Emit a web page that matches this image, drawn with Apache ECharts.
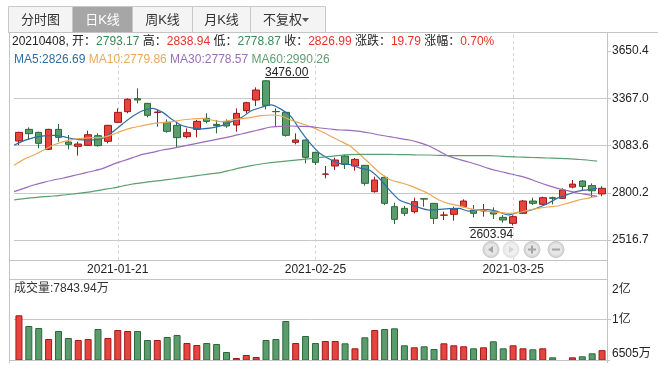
<!DOCTYPE html>
<html><head><meta charset="utf-8">
<script src="https://cdn.jsdelivr.net/npm/echarts@6/dist/echarts.min.js"></script>
<style>html,body{margin:0;padding:0;background:#fff}#c{width:666px;height:371px}</style>
</head><body><div id="c"></div>
<script>
const dates = [
'2021-01-07','2021-01-08','2021-01-11','2021-01-12','2021-01-13','2021-01-14','2021-01-15','2021-01-18','2021-01-19','2021-01-20',
'2021-01-21','2021-01-22','2021-01-25','2021-01-26','2021-01-27','2021-01-28','2021-01-29','2021-02-01','2021-02-02','2021-02-03',
'2021-02-04','2021-02-05','2021-02-08','2021-02-09','2021-02-10','2021-02-18','2021-02-19','2021-02-22','2021-02-23','2021-02-24',
'2021-02-25','2021-02-26','2021-03-01','2021-03-02','2021-03-03','2021-03-04','2021-03-05','2021-03-08','2021-03-09','2021-03-10',
'2021-03-11','2021-03-12','2021-03-15','2021-03-16','2021-03-17','2021-03-18','2021-03-19','2021-03-22','2021-03-23','2021-03-24',
'2021-03-25','2021-03-26','2021-03-29','2021-03-30','2021-03-31','2021-04-01','2021-04-02','2021-04-06','2021-04-07','2021-04-08'];
// [open, close, low, high]
const ohlc = [
[3110.7,3162.7,3086.7,3166.0],[3180.7,3154.7,3116.7,3192.7],[3162.7,3096.7,3066.7,3166.0],[3060.7,3180.7,3056.7,3184.0],
[3180.7,3132.7,3106.7,3212.7],[3104.7,3090.7,3060.7,3146.7],[3078.7,3092.7,3022.7,3106.7],[3084.7,3148.7,3080.0,3172.7],
[3142.7,3082.7,3076.7,3156.7],[3108.7,3204.7,3096.7,3208.0],[3222.7,3282.7,3218.0,3306.7],[3286.7,3360.7,3276.7,3366.7],
[3364.7,3356.7,3336.7,3426.7],[3336.7,3264.7,3252.7,3338.0],[3282.0,3284.7,3196.7,3296.7],[3222.7,3168.7,3160.7,3240.7],
[3204.7,3130.7,3072.7,3226.7],[3136.7,3160.7,3126.7,3186.7],[3180.7,3228.7,3132.7,3236.7],[3246.7,3228.7,3216.7,3276.7],
[3210.7,3202.7,3156.7,3236.7],[3226.7,3200.7,3190.0,3240.0],[3206.7,3276.7,3166.7,3306.7],[3292.7,3340.7,3276.7,3346.0],
[3356.7,3416.7,3320.7,3432.7],[3472.0,3324.7,3300.7,3476.0],[3288.0,3286.7,3196.7,3306.7],[3282.7,3144.7,3136.7,3286.0],
[3102.7,3116.7,3090.7,3156.7],[3116.7,3012.7,2976.7,3118.0],[3042.7,2982.7,2966.7,3045.0],[2911.5,2912.7,2886.7,2960.7],
[2960.7,2996.7,2936.7,3010.7],[3020.7,2970.7,2942.7,3030.7],[2960.7,3000.7,2932.7,3008.7],[2964.7,2856.7,2842.7,2966.0],
[2806.7,2876.7,2800.7,2896.7],[2892.7,2736.7,2726.7,2902.7],[2716.7,2640.7,2612.7,2740.7],[2706.7,2676.7,2660.7,2720.7],
[2686.7,2746.7,2676.7,2770.7],[2764.7,2762.0,2716.7,2766.0],[2736.7,2646.7,2612.7,2738.0],[2665.5,2666.7,2636.7,2686.7],
[2670.7,2702.7,2632.7,2716.7],[2716.7,2750.7,2712.7,2760.7],[2696.7,2676.7,2652.7,2726.7],[2691.5,2692.7,2656.7,2732.7],
[2686.7,2672.7,2642.7,2712.7],[2652.7,2636.7,2620.7,2666.7],[2616.7,2656.7,2603.94,2664.7],[2676.7,2750.7,2674.0,2756.7],
[2750.7,2736.7,2726.7,2770.7],[2730.7,2770.7,2726.7,2776.7],[2770.7,2766.7,2730.7,2776.7],[2766.7,2816.7,2762.7,2826.7],
[2834.0,2852.0,2826.7,2876.7],[2870.7,2838.0,2816.7,2876.7],[2843.0,2812.0,2772.0,2856.7],[2793.17,2826.99,2778.87,2838.94]];
const ma5 = [3085,3113,3131,3141,3145,3137,3123,3117,3117,3127,3166,3214,3259,3292,3307,3284,3240,3204,3190,3184,
3189,3203,3227,3251,3292,3312,3327,3302,3258,3172,3095,3034,3000,2975,2970,2948,2935,2884,2816,2757,
2734,2711,2696,2700,2705,2706,2690,2698,2699,2686,2667,2682,2691,2710,2736,2768,2789,2809,2818,2826.69];
const ma10 = [2964.7,3000.7,3026.7,3056.7,3086.7,3106.7,3120.7,3126.7,3130.7,3132.7,3150.7,3172.7,3190.7,3202.7,3214.7,3220.7,3226.7,3236.7,3242.7,3246.7,
3236.7,3226.7,3236.7,3244.7,3252.7,3262.7,3266.7,3260.7,3236.7,3216.7,3196.7,3170.7,3140.7,3110.7,3080.7,3030.0,2975.0,2920.0,2880.0,2862.7,
2844.7,2820.7,2792.7,2756.7,2734.7,2722.7,2706.7,2696.7,2688.7,2682.7,2676.7,2680.7,2694.7,2706.7,2714.7,2720.7,2736.7,2754.7,2766.7,2779.86];
const ma30 = [2806.7,2826.7,2846.7,2862.7,2876.7,2888.7,2902.7,2916.7,2930.7,2946.7,2970.7,2990.7,3010.7,3030.7,3042.7,3056.7,3066.7,3078.7,3090.7,3102.7,
3114.7,3126.7,3138.7,3152.7,3166.7,3180.7,3194.7,3198.7,3200.7,3198.7,3196.7,3188.7,3182.7,3176.7,3174.7,3168.7,3158.7,3146.7,3136.7,3126.7,
3116.7,3100.7,3080.7,3050.0,3020.0,3000.7,2984.7,2966.7,2946.7,2930.7,2916.7,2902.7,2886.7,2864.7,2844.7,2826.7,2812.7,2798.7,2788.7,2778.57];
const ma60 = [2756.7,2764.7,2770.7,2776.7,2780.7,2786.7,2792.7,2800.7,2808.7,2818.7,2828.7,2840.7,2852.7,2860.7,2868.7,2874.7,2882.7,2890.7,2898.7,2906.7,
2914.7,2922.7,2936.7,2950.7,2962.7,2972.7,2980.7,2986.7,2992.7,2998.7,3004.7,3012.7,3018.7,3024.7,3028.7,3030.7,3030.7,3030.7,3030.7,3028.7,
3028.7,3026.7,3026.7,3024.7,3022.7,3022.7,3022.7,3022.7,3022.7,3020.7,3016.7,3014.7,3012.7,3010.7,3008.7,3006.7,3004.7,3000.7,2996.7,2990.26];
// volume in 万
const volume = [12571,11119,10847,9355,10440,9490,9219,9355,10712,9490,10576,10440,10440,9219,9219,9626,9898,8812,8541,8812,
8676,7591,6776,7184,6912,9219,9355,11797,8812,9762,8812,9083,9083,8771,8093,9585,10576,10712,10807,8500,
8228,8364,7998,8771,8500,8364,8093,8228,9043,8093,8500,8093,7957,8093,6871,6505,6871,7007,7414,7843.94];
const priceTickLabels = ['2516.7','2800.2','3083.6','3367.0','3650.4'];
const volTickLabels = ['6505万','1亿','2亿'];
const xTickDates = ['2021-01-21','2021-02-25','2021-03-25'];
const tabLabels = ['分时图','日K线','周K线','月K线','不复权'];
const maNames = ['MA5','MA10','MA30','MA60'];
const maLast = ['2826.69','2779.86','2778.57','2990.26'];
const headerDate = '20210408';
const headerVals = {open:'2793.17',high:'2838.94',low:'2778.87',close:'2826.99',chg:'19.79',pct:'0.70%'};
const volLastText = '7843.94万';

const FONT = '"Liberation Sans","Noto Sans CJK SC",sans-serif';
const UP='#e5443f', UPB='#a01818', DN='#5b9b6d', DNB='#2a6a39';
const MAC = ['#2e6da4','#eaa955','#9b6cb8','#5c9f70'];
const GRIDC = '#c8c8c8', FRAME = '#c4c4c4';

const priceTickVals = priceTickLabels.map(parseFloat);
const volMin = 6505, volMax = 17500;
const volTickVals = [volMin, (volMin+volMax)/2, volMax];
const lineCats = dates.concat(['']);

let hiIdx=0, loIdx=0;
ohlc.forEach((d,i)=>{ if(d[3]>ohlc[hiIdx][3]) hiIdx=i; if(d[2]<ohlc[loIdx][2]) loIdx=i; });

const chart = echarts.init(document.getElementById('c'));
function nearestIdx(arr, v){ let b=0; arr.forEach((t,i)=>{ if(Math.abs(t-v)<Math.abs(arr[b]-v)) b=i; }); return b; }

const maSeries = [ma5,ma10,ma30,ma60].map((d,k)=>({
  type:'line', name:maNames[k], xAxisIndex:1, yAxisIndex:0, data:d, showSymbol:false, symbol:'none',
  smooth:0.25, lineStyle:{color:MAC[k], width:1.2}, z:3, silent:true
}));

// graphics: tabs, frame, header, buttons
const g = [];
const tabX = [8.5,72.5,132.5,192.5,250.5,325.5];
tabLabels.forEach((t,i)=>{
  const act = i===1;
  g.push({type:'rect', shape:{x:tabX[i], y:6.5, width:tabX[i+1]-tabX[i], height:26},
    style:{fill: act?'#a6a6a6':'#f4f4f4', stroke:'#c8c8c8', lineWidth:1}, silent:true});
  if(i===4){
    g.push({type:'text', style:{text:t, x:263, y:20, verticalAlign:'middle', fontSize:13, fontFamily:FONT, fill:'#333'}});
    g.push({type:'polygon', shape:{points:[[302,18],[309,18],[305.5,22]]}, style:{fill:'#555'}});
  } else {
    g.push({type:'text', style:{text:t, x:(tabX[i]+tabX[i+1])/2, y:20, align:'center', verticalAlign:'middle',
      fontSize:13, fontFamily:FONT, fill: act?'#fff':'#333'}});
  }
});
const L = (x1,y1,x2,y2,c)=>g.push({type:'line', shape:{x1,y1,x2,y2}, style:{stroke:c||FRAME, lineWidth:1}, silent:true, z:10});
L(8,32.5,658,32.5);
L(9.5,32,9.5,363); L(607.5,32,607.5,363);
L(9,260.5,607,260.5); L(9,279.5,607,279.5); L(9,360.5,610,360.5);

const red='#e8312b', green='#3a8a56', blk='#222';
g.push({type:'text', z:20, style:{x:12, y:42, verticalAlign:'middle', fontSize:12, fontFamily:FONT,
  text:`{k|${headerDate}, 开：}{g|${headerVals.open}}{k| 高：}{r|${headerVals.high}}{k| 低：}{g|${headerVals.low}}{k| 收：}{r|${headerVals.close}}{k| 涨跌：}{r|${headerVals.chg}}{k| 涨幅：}{r|${headerVals.pct}}`,
  rich:{k:{fill:blk,fontSize:12,fontFamily:FONT}, g:{fill:green,fontSize:12,fontFamily:FONT}, r:{fill:red,fontSize:12,fontFamily:FONT}}}});
g.push({type:'text', z:20, style:{x:14, y:60, verticalAlign:'middle', fontSize:12, fontFamily:FONT,
  text: maNames.map((n,k)=>`{m${k}|${n}:${maLast[k]}}`).join('{s| }'),
  rich:{m0:{fill:MAC[0],fontSize:12,fontFamily:FONT},m1:{fill:MAC[1],fontSize:12,fontFamily:FONT},
        m2:{fill:MAC[2],fontSize:12,fontFamily:FONT},m3:{fill:MAC[3],fontSize:12,fontFamily:FONT},s:{fontSize:12,fontFamily:FONT}}}});
g.push({type:'text', z:20, style:{x:14, y:289, verticalAlign:'middle', fontSize:12, fontFamily:FONT, fill:'#333',
  text:'成交量:'+volLastText}});

// zoom buttons
const btn = [[491,'l',false],[511,'r',true],[532,'p',false],[556,'m',false]];
btn.forEach(([cx,kind,dis])=>{
  const cy=249.5;
  g.push({type:'circle', shape:{cx,cy,r:8}, style:{fill:dis?'#e8e8e8':'#d9d9d9', stroke:dis?'#e0e0e0':'#c6c6c6', lineWidth:1}, z:20});
  g.push({type:'circle', shape:{cx,cy,r:6}, style:{fill:dis?'#efefef':'#e6e6e6'}, z:20});
  const ic = dis?'#d4d4d4':'#a4a4a4';
  if(kind==='l') g.push({type:'polygon', shape:{points:[[cx-3,cy],[cx+2,cy-3.5],[cx+2,cy+3.5]]}, style:{fill:ic}, z:21});
  if(kind==='r') g.push({type:'polygon', shape:{points:[[cx+3,cy],[cx-2,cy-3.5],[cx-2,cy+3.5]]}, style:{fill:ic}, z:21});
  if(kind==='p'){ g.push({type:'rect', shape:{x:cx-4,y:cy-1,width:8,height:2}, style:{fill:ic}, z:21});
                  g.push({type:'rect', shape:{x:cx-1,y:cy-4,width:2,height:8}, style:{fill:ic}, z:21}); }
  if(kind==='m') g.push({type:'rect', shape:{x:cx-4,y:cy-1,width:8,height:2}, style:{fill:ic}, z:21});
});

const option = {
  animation:false,
  textStyle:{fontFamily:FONT},
  grid:[{left:14,right:59,top:32,height:228},{left:14,right:59,top:279,height:81}],
  xAxis:[
    {type:'category', gridIndex:0, data:dates, boundaryGap:true, axisLine:{show:false}, axisTick:{show:false},
     axisLabel:{interval:(i,v)=>xTickDates.includes(v), color:'#222', fontSize:12, margin:4, fontFamily:FONT},
     splitLine:{show:false}},
    {type:'category', gridIndex:0, data:lineCats, boundaryGap:false, show:false},
    {type:'category', gridIndex:1, data:dates, boundaryGap:true, show:false}
  ],
  yAxis:[
    {type:'value', gridIndex:0, position:'right', min:2396.7, max:3764.85, axisLine:{show:false}, splitLine:{show:false},
     axisTick:{show:true, customValues:priceTickVals, length:4, lineStyle:{color:FRAME}},
     axisLabel:{customValues:priceTickVals, formatter:v=>priceTickLabels[nearestIdx(priceTickVals,v)],
       color:'#222', fontSize:12, margin:5, fontFamily:FONT}},
    {type:'value', gridIndex:1, position:'right', min:volMin, max:volMax, axisLine:{show:false}, splitLine:{show:false},
     axisTick:{show:true, customValues:[volTickVals[1]], length:4, lineStyle:{color:FRAME}},
     axisLabel:{customValues:volTickVals, margin:5, fontSize:12, color:'#222', fontFamily:FONT,
       formatter:v=>{const i=nearestIdx(volTickVals,v); return '{t'+i+'|'+volTickLabels[i]+'}';},
       rich:{t0:{fontSize:12,fontFamily:FONT,color:'#222',padding:[0,0,12,0]},
             t1:{fontSize:12,fontFamily:FONT,color:'#222'},
             t2:{fontSize:12,fontFamily:FONT,color:'#222',padding:[22,0,0,0]}}}}
  ],
  graphic:{elements:g},
  series:[
    {type:'candlestick', xAxisIndex:0, yAxisIndex:0, data:ohlc, barWidth:7, z:2,
     itemStyle:{color:UP, color0:DN, borderColor:UPB, borderColor0:DNB, borderWidth:1},
     markLine:{silent:true, symbol:['none','none'], z:1, animation:false, label:{show:false},
       emphasis:{disabled:true},
       data:[...priceTickVals.slice(0,4).map(v=>({yAxis:v, lineStyle:{color:GRIDC, type:'solid', width:1}})),
             ...xTickDates.map(d=>({xAxis:d, lineStyle:{color:'#d6d6d6', type:[3,3], width:1}}))]}},
    ...maSeries,
    {type:'bar', xAxisIndex:2, yAxisIndex:1, barWidth:7, z:2,
     data: volume.map((v,i)=>{const up=ohlc[i][1]>=ohlc[i][0];
       return {value:v, itemStyle:{color:up?UP:DN, borderColor:up?UPB:DNB, borderWidth:1}};}),
     markLine:{silent:true, symbol:['none','none'], z:1, animation:false, label:{show:false},
       data:[{yAxis:volTickVals[1], lineStyle:{color:GRIDC, type:'solid', width:1}}]}},
    {type:'custom', xAxisIndex:0, yAxisIndex:0, z:6, silent:true,
     data:[[hiIdx, ohlc[hiIdx][3], 0],[loIdx, ohlc[loIdx][2], 1]],
     renderItem:(params, api)=>{
       const p = api.coord([api.value(0), api.value(1)]);
       const kind = api.value(2);
       const txt = (kind===0? ohlc[hiIdx][3] : ohlc[loIdx][2]).toFixed(2);
       const w = 44;
       if(kind===0){
         const y = Math.round(p[1]-3.5)+0.5;
         return {type:'group', children:[
           {type:'line', shape:{x1:p[0]-1, y1:y, x2:p[0]-1+w, y2:y}, style:{stroke:'#333', lineWidth:1}},
           {type:'text', style:{text:txt, x:p[0]-1, y:y-5, align:'left', verticalAlign:'middle', fontSize:12, fontFamily:FONT, fill:'#222'}}]};
       } else {
         const y = Math.round(p[1]+2)+0.5;
         return {type:'group', children:[
           {type:'line', shape:{x1:p[0]-w, y1:y, x2:p[0], y2:y}, style:{stroke:'#333', lineWidth:1}},
           {type:'text', style:{text:txt, x:p[0], y:y+7, align:'right', verticalAlign:'middle', fontSize:12, fontFamily:FONT, fill:'#222'}}]};
       }
     }}
  ]
};
chart.setOption(option);
</script></body></html>
